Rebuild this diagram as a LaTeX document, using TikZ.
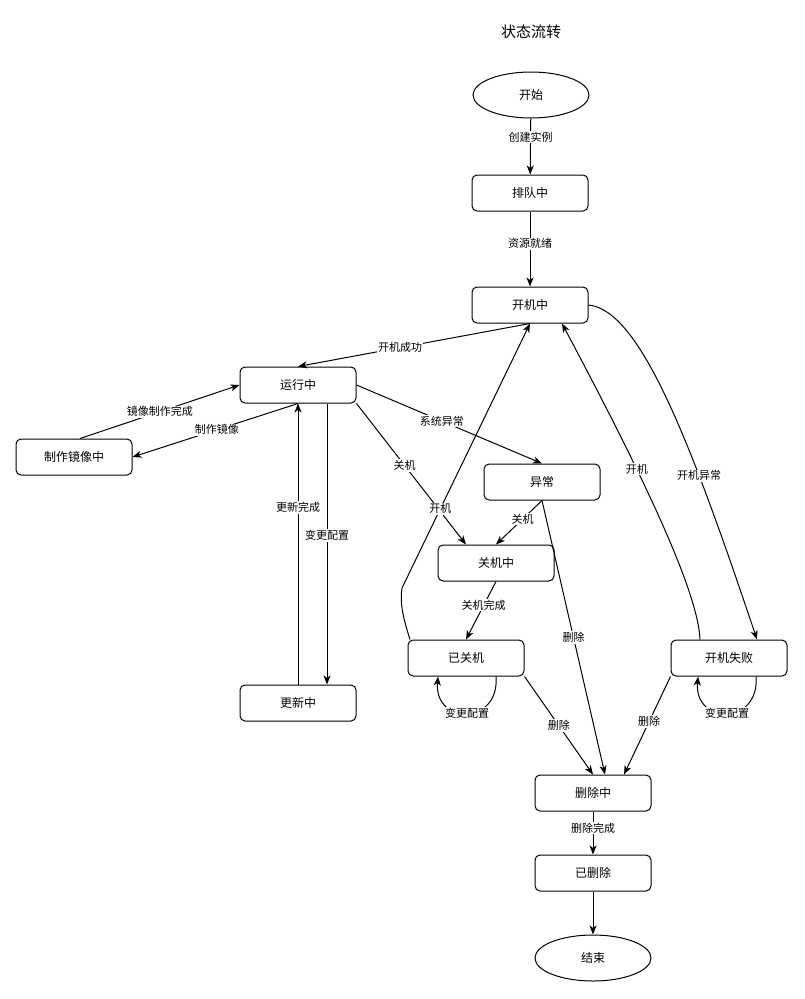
\documentclass[tikz,border=0pt]{standalone}
\usepackage{fontspec}
\setmainfont{Noto Sans CJK SC}
\usetikzlibrary{arrows.meta,shapes.geometric}
\begin{document}
\begin{tikzpicture}[x=1pt,y=-1pt,>={Stealth[length=9pt,width=7pt,inset=2.5pt]},
    state/.style={draw,rounded corners=5pt,minimum width=116pt,minimum height=36pt,line width=1pt,font=\fontsize{12}{14}\selectfont},
    term/.style={draw,ellipse,minimum width=116pt,minimum height=46pt,inner sep=0pt,line width=1pt,font=\fontsize{12}{14}\selectfont},
    lbl/.style={fill=white,inner sep=1pt,font=\fontsize{11}{13}\selectfont},
    link/.style={->,line width=1pt}]
\useasboundingbox (0,0) rectangle (804,999);
\node (title) at (531,32) {\fontsize{15}{18}\selectfont 状态流转};

% states
\node[term]  (start)    at (531,95)  {开始};
\node[state] (queue)    at (530,193) {排队中};
\node[state] (boot)     at (530,305) {开机中};
\node[state] (run)      at (298,385) {运行中};
\node[state] (image)    at (74,457)  {制作镜像中};
\node[state] (error)    at (542,482) {异常};
\node[state] (stopping) at (496,563) {关机中};
\node[state] (stopped)  at (466,658) {已关机};
\node[state] (bootfail) at (729,658) {开机失败};
\node[state] (update)   at (298,703) {更新中};
\node[state] (deleting) at (593,793) {删除中};
\node[state] (deleted)  at (593,873) {已删除};
\node[term]  (finish)   at (593,958) {结束};

% transitions
\draw[link](start)--node[lbl,pos=.33]{创建实例}(queue);
\draw[link](queue)--node[lbl,pos=.43]{资源就绪}(boot);
\draw[link](boot.south)--node[lbl,pos=.56]{开机成功}(run.north);
\draw[link](run.south)--node[lbl,pos=.49]{制作镜像}(image.east);
\draw[link]([xshift=6pt]image.north)--node[lbl,pos=.5]{镜像制作完成}(run.west);
\draw[link]([xshift=29pt]run.south)--node[lbl,pos=.47]{变更配置}([xshift=29pt]update.north);
\draw[link](update.north)--node[lbl,pos=.63]{更新完成}(run.south);
\draw[link](run.east)--node[lbl,pos=.46]{系统异常}(error.north);
\draw[link](run.south east)--node[lbl,pos=.44]{关机}([xshift=-30pt]stopping.north);
\draw[link](error.south)--node[lbl,pos=.42]{关机}(stopping.north);
\draw[link](error.south)--node[lbl,pos=.5]{删除}([xshift=12pt]deleting.north);
\draw[link](stopping.south)--node[lbl,pos=.41]{关机完成}(stopped.north);
\draw[link]([xshift=-56pt]stopped.north)..controls +(-8,-25) and +(-2,14)..(402,588)
    --node[lbl,pos=.3]{开机}(boot.south);
\draw[link]([xshift=30pt]stopped.south)..controls +(4,49) and +(-4,49)..
    node[lbl,pos=.5]{变更配置}([xshift=-28pt]stopped.south);
\draw[link](stopped.south east)--node[lbl,pos=.5]{删除}(deleting.north);
\draw[link](boot.east)..controls (640,310) and (690,440)..
    node[lbl,pos=.69]{开机异常}([xshift=28pt]bootfail.north);
\draw[link]([xshift=-29pt]bootfail.north)..controls (698,590) and (640,470)..
    node[lbl,pos=.64]{开机}([xshift=32pt]boot.south);
\draw[link]([xshift=27pt]bootfail.south)..controls +(4,49) and +(-4,49)..
    node[lbl,pos=.5]{变更配置}([xshift=-31pt]bootfail.south);
\draw[link](bootfail.south west)--node[lbl,pos=.46]{删除}([xshift=31pt]deleting.north);
\draw[link](deleting)--node[lbl,pos=.39]{删除完成}(deleted);
\draw[link](deleted)--(finish);
\end{tikzpicture}
\end{document}
